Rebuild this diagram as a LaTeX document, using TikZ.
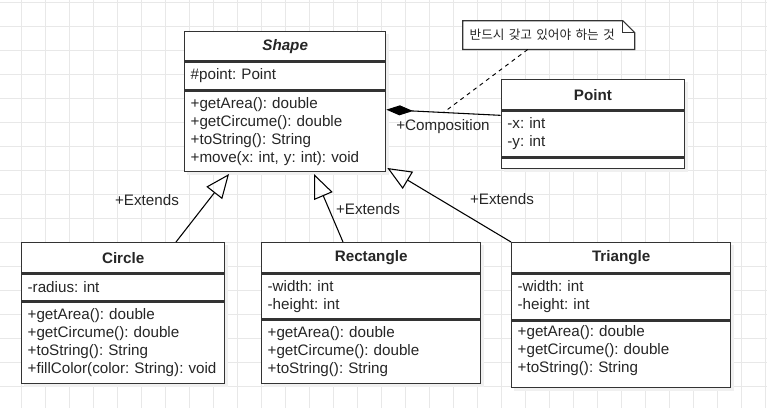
\documentclass[tikz,border=0pt]{standalone}
\usepackage{fontspec}
\setmainfont{Liberation Sans}
\newfontfamily\krfont{Noto Sans CJK KR}
\usetikzlibrary{calc,arrows.meta,backgrounds}
\frenchspacing

\newcommand{\umlfont}{\fontsize{11.4}{13.5}\selectfont}

\tikzset{
  cls/.style={draw=black!80, line width=1pt, fill=white, anchor=north west, inner xsep=4.5pt, inner ysep=2pt},
  clstitle/.style 2 args={cls, minimum width=#1, minimum height=#2, font=\umlfont\bfseries},
  clspart/.style 2 args={cls, text width=#1, minimum height=#2, align=left},
  extends/.style={-{Triangle[open, length=18pt, width=15pt]}, line width=0.8pt},
  composition/.style={{Diamond[length=20pt, width=7.5pt]}-, line width=0.8pt},
  notebox/.style={draw=black!80, line width=0.9pt},
  shadowbox/.style={fill=black!6},
  gridline/.style={black!9, line width=0.75pt}
}

\begin{document}
\begin{tikzpicture}[x=0.75pt, y=-0.75pt, font=\umlfont, text=black!85]
    \useasboundingbox (0,0) rectangle (767,408);

    % Shape
    \node[clstitle={150.75pt}{21.75pt}] (shape-t) at (184,31) {\itshape Shape};
    \node[clspart={141.75pt}{21pt}] (shape-a) at (shape-t.south west) {\#point: Point};
    \node[clspart={141.75pt}{60pt}] (shape-m) at (shape-a.south west)
        {+getArea(): double\\+getCircume(): double\\+toString(): String\\+move(x: int, y: int): void};

    % Point
    \node[clstitle={137.25pt}{22.5pt}] (point-t) at (500.7,79) {Point};
    \node[clspart={128.25pt}{34.5pt}] (point-a) at (point-t.south west) {-x: int\\-y: int};
    \node[clspart={128.25pt}{7.5pt}] (point-e) at (point-a.south west) {};

    % Circle
    \node[clstitle={152.25pt}{22.5pt}] (circle-t) at (21,242) {Circle};
    \node[clspart={143.25pt}{20.25pt}] (circle-a) at (circle-t.south west) {-radius: int};
    \node[clspart={143.25pt}{60.75pt}] (circle-m) at (circle-a.south west)
        {+getArea(): double\\+getCircume(): double\\+toString(): String\\\mbox{+fillColor(color: String): void}};

    % Rectangle
    \node[clstitle={164.25pt}{22.5pt}] (rect-t) at (261,242) {Rectangle};
    \node[clspart={155.25pt}{33.75pt}] (rect-a) at (rect-t.south west) {-width: int\\-height: int};
    \node[clspart={155.25pt}{47.25pt}] (rect-m) at (rect-a.south west)
        {+getArea(): double\\+getCircume(): double\\+toString(): String};

    % Triangle
    \node[clstitle={164.25pt}{22.5pt}] (tri-t) at (511,242) {Triangle};
    \node[clspart={155.25pt}{34.5pt}] (tri-a) at (tri-t.south west) {-width: int\\-height: int};
    \node[clspart={155.25pt}{49.5pt}] (tri-m) at (tri-a.south west)
        {+getArea(): double\\+getCircume(): double\\+toString(): String\rule[-8pt]{0pt}{1pt}};

    % note
    \node[anchor=north west, minimum width=128.7pt, minimum height=21.2pt, text width=118.7pt,
          align=left, inner xsep=5pt, font=\krfont\fontsize{9.5}{11}\selectfont] (note) at (462.7,20.7)
        {반드시 갖고 있어야 하는 것};
    \draw[notebox] (note.north west) -- ($(note.north east)+(-12,0)$) -- ($(note.north east)+(0,12)$)
        -- (note.south east) -- (note.south west) -- cycle;
    \draw[notebox] ($(note.north east)+(-12,0)$) -- ($(note.north east)+(-12,12)$) -- ($(note.north east)+(0,12)$);

    % composition
    \coordinate (comp-tip) at ($(shape-m.north east)+(0,19)$);
    \coordinate (comp-end) at ($(point-a.north west)+(0,5)$);
    \draw[composition] (comp-tip) -- (comp-end);
    \node (lbl-comp) at (443,127) {+Composition};
    \coordinate (note-pin) at ($(comp-tip)!0.5!(comp-end)$);
    \draw[dashed, line width=0.7pt] ($(note.south west)+(65,0)$) -- (note-pin);

    % extends
    \draw[extends] ($(circle-t.north west)+(155,0)$) -- ($(shape-m.south west)+(45,2)$);
    \draw[extends] ($(rect-t.north west)+(82,0)$) -- ($(shape-m.south west)+(130,2)$);
    \draw[extends] (tri-t.north west) -- ($(shape-m.south east)+(1,-4)$);
    \node (lbl-circle) at (147,200) {+Extends};
    \node (lbl-rect) at (368,209) {+Extends};
    \node (lbl-tri) at (502,199) {+Extends};

    % grid, shadows
    \begin{scope}[on background layer]
        \foreach \gx in {21,45,...,765} \draw[gridline] (\gx,0) -- (\gx,408);
        \foreach \gy in {2,26,...,386} \draw[gridline] (0,\gy) -- (767,\gy);
        \foreach \c/\e in {shape/shape-m, point/point-e, circle/circle-m, rect/rect-m, tri/tri-m}
            \fill[shadowbox] ($(\c-t.north west)+(3,3)$) rectangle ($(\e.south east)+(3,3)$);
        \fill[white] (note.north west) -- ($(note.north east)+(-12,0)$) -- ($(note.north east)+(0,12)$)
            -- (note.south east) -- (note.south west) -- cycle;
    \end{scope}
\end{tikzpicture}
\end{document}
